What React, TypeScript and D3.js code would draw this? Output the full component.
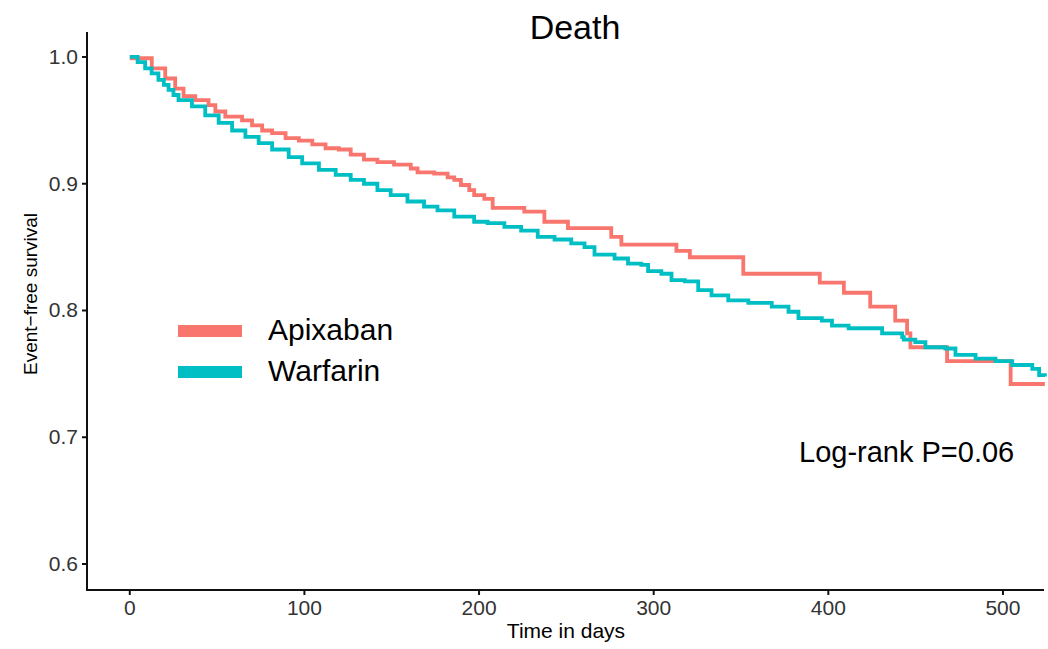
import React from "react";
import * as d3 from "d3";

const apixabanTime = [0, 1.1, 12.6, 20.3, 26.0, 30.8, 37.5, 45.1, 49.0, 54.7, 64.3, 70.0, 75.8, 81.5, 89.2, 96.8, 104.5, 112.1, 119.7, 126.5, 134.1, 141.8, 151.3, 160.9, 164.8, 174.3, 182.0, 185.8, 189.6, 194.4, 197.2, 203.0, 207.8, 225.9, 237.4, 250.9, 275.7, 281.5, 313.0, 320.7, 351.3, 395.1, 408.9, 424.0, 438.3, 445.1, 447.0, 468.0, 504.4, 524];
const apixabanSurv = [1.0, 0.999, 0.991, 0.983, 0.975, 0.969, 0.966, 0.962, 0.957, 0.953, 0.95, 0.946, 0.942, 0.94, 0.936, 0.934, 0.931, 0.928, 0.927, 0.923, 0.919, 0.917, 0.915, 0.912, 0.909, 0.908, 0.905, 0.903, 0.899, 0.895, 0.891, 0.888, 0.881, 0.878, 0.87, 0.865, 0.858, 0.852, 0.847, 0.842, 0.829, 0.822, 0.814, 0.803, 0.792, 0.782, 0.771, 0.76, 0.742, 0.742];

const warfarinTime = [0, 4.5, 8.8, 12.5, 16.4, 19.5, 22.2, 25, 27.9, 35.6, 43.2, 50.9, 58.6, 66.2, 73.8, 81.5, 91.0, 98.7, 108.3, 117.9, 126.5, 134.1, 141.8, 149.4, 159.0, 168.5, 176.2, 185.8, 197.2, 204.9, 214.5, 224.1, 233.6, 243.2, 252.8, 260.4, 266.1, 277.6, 285.3, 292.9, 296.8, 304.4, 310.2, 317.8, 325.5, 333.1, 342.7, 354.2, 367.6, 377.2, 382.9, 396.3, 402.1, 411.6, 430.8, 442.3, 443.2, 449.8, 455.6, 467.0, 472.8, 484.3, 495.7, 505.3, 516.8, 520.7, 524];
const warfarinSurv = [1.0, 0.996, 0.991, 0.987, 0.982, 0.978, 0.974, 0.97, 0.966, 0.961, 0.954, 0.948, 0.942, 0.937, 0.932, 0.927, 0.921, 0.916, 0.911, 0.907, 0.903, 0.9, 0.895, 0.891, 0.886, 0.882, 0.879, 0.874, 0.87, 0.869, 0.866, 0.863, 0.858, 0.856, 0.853, 0.85, 0.844, 0.841, 0.837, 0.836, 0.831, 0.829, 0.824, 0.823, 0.816, 0.812, 0.808, 0.806, 0.803, 0.799, 0.794, 0.792, 0.788, 0.786, 0.782, 0.779, 0.777, 0.775, 0.771, 0.77, 0.765, 0.762, 0.76, 0.757, 0.754, 0.749, 0.748];

const xTicks = [0, 100, 200, 300, 400, 500];
const yTicks = [0.6, 0.7, 0.8, 0.9, 1.0];
const seriesNames = ["Apixaban", "Warfarin"];
const seriesColors = ["#F8766D", "#00BFC4"];

export default function App() {
  const W = 1048, H = 649;
  const left = 87, right = 1044, top = 32, bottom = 590;
  const x = d3.scaleLinear().domain([-24.5, 523.5]).range([left, right]);
  const y = d3.scaleLinear().domain([0.5795, 1.0197]).range([bottom, top]);
  const line = d3.line<[number, number]>().x(d => x(d[0])).y(d => y(d[1])).curve(d3.curveStepAfter);
  const series = [
    apixabanTime.map((t, i) => [t, apixabanSurv[i]] as [number, number]),
    warfarinTime.map((t, i) => [t, warfarinSurv[i]] as [number, number]),
  ];
  const font = "Liberation Sans, Arial, sans-serif";
  return (
    <svg width={W} height={H} style={{ position: "absolute", left: 0, top: 0, background: "#fff" }} fontFamily={font}>
      <text x={575} y={39} textAnchor="middle" fontSize={34} fill="#000">Death</text>
      {series.map((s, i) => (
        <path key={i} d={line(s) || ""} fill="none" stroke={seriesColors[i]} strokeWidth={3.8} strokeLinejoin="miter" />
      ))}
      <line x1={left} x2={left} y1={top} y2={bottom + 1} stroke="#111" strokeWidth={2} />
      <line x1={left - 1} x2={right} y1={bottom} y2={bottom} stroke="#111" strokeWidth={2} />
      {yTicks.map(t => (
        <g key={t}>
          <line x1={left - 5} x2={left} y1={y(t)} y2={y(t)} stroke="#111" strokeWidth={2} />
          <text x={left - 9} y={y(t) + 7} textAnchor="end" fontSize={21} fill="#333">{t.toFixed(1)}</text>
        </g>
      ))}
      {xTicks.map(t => (
        <g key={t}>
          <line x1={x(t)} x2={x(t)} y1={bottom} y2={bottom + 5} stroke="#111" strokeWidth={2} />
          <text x={x(t)} y={bottom + 25} textAnchor="middle" fontSize={21} fill="#333">{t}</text>
        </g>
      ))}
      <text x={566} y={638} textAnchor="middle" fontSize={21} fill="#000">Time in days</text>
      <text transform={`translate(37, 294) rotate(-90)`} textAnchor="middle" fontSize={19} fill="#000">Event−free survival</text>
      {seriesNames.map((n, i) => (
        <g key={n}>
          <line x1={178} x2={242} y1={331 + i * 41} y2={331 + i * 41} stroke={seriesColors[i]} strokeWidth={12} />
          <text x={268} y={340 + i * 41} fontSize={30} fill="#000">{n}</text>
        </g>
      ))}
      <text x={799} y={462} fontSize={29} fill="#000">Log-rank P=0.06</text>
    </svg>
  );
}
